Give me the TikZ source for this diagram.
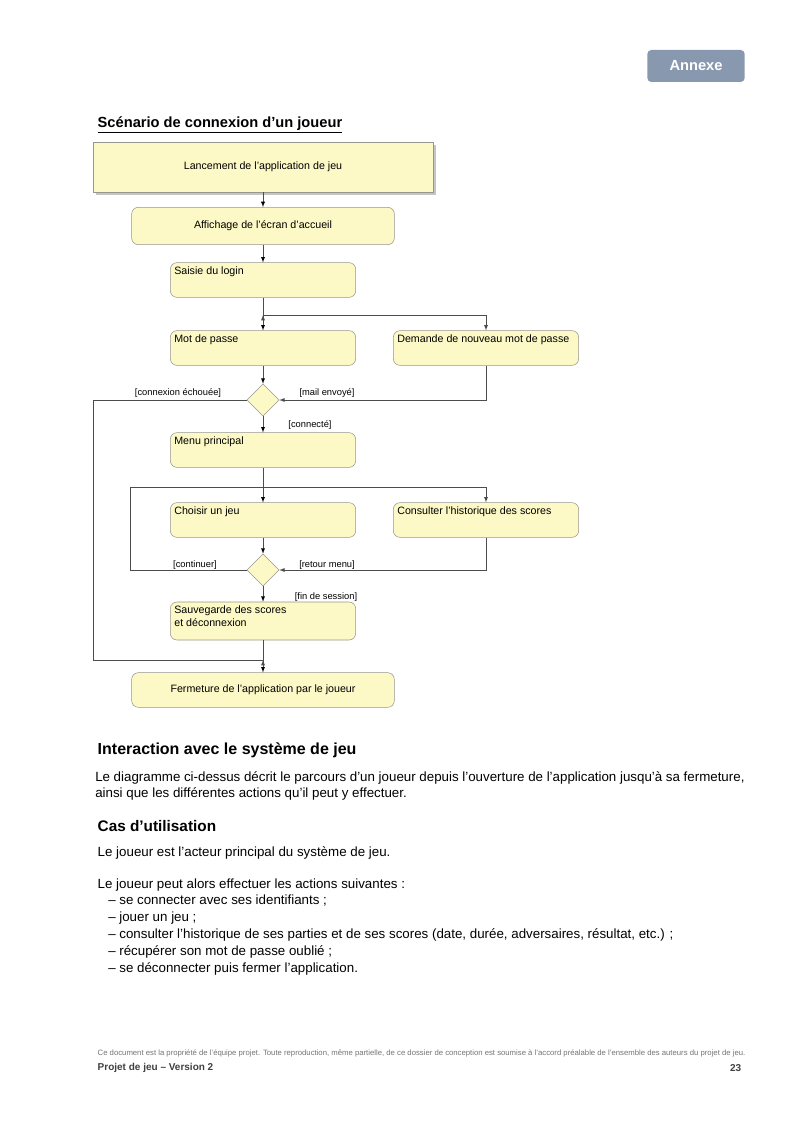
\documentclass[tikz,border=0pt]{standalone}
\usepackage{fontspec}
\setmainfont{Liberation Sans}
\usetikzlibrary{arrows,shapes.geometric,shadows}
\definecolor{boxfill}{RGB}{252,249,198}
\definecolor{boxline}{RGB}{150,150,140}
\definecolor{tabfill}{RGB}{136,152,174}
\tikzset{
  act/.style={draw=boxline,fill=boxfill,rounded corners=5pt,minimum width=139pt,minimum height=26pt,inner sep=0pt,font=\fontsize{8}{9.6}\selectfont},
  lbl/.style={font=\fontsize{8}{9.6}\selectfont,inner sep=3pt,align=left},
  cond/.style={font=\fontsize{7}{8.4}\selectfont,inner sep=1pt},
  dec/.style={diamond,draw=boxline,fill=boxfill,minimum size=24pt,inner sep=0pt},
  flow/.style={draw=black!70,line width=0.4pt},
}

\begin{document}
\begin{tikzpicture}[x=0.75pt,y=-0.75pt,>=latex]
\useasboundingbox (0,0) rectangle (800,1131);
% tab and title
\node[fill=tabfill,rounded corners=3pt,minimum width=73pt,minimum height=24pt,text=white,font=\fontsize{11}{13}\selectfont\bfseries] (tab) at (696,66) {Annexe};
\node[anchor=west,font=\fontsize{11}{13}\selectfont\bfseries] (t1) at (93,125) {\underline{Scénario de connexion d'un joueur}};
% activities
\node[act,rounded corners=0pt,minimum width=255pt,minimum height=37.5pt,drop shadow={shadow xshift=2.5pt,shadow yshift=-2.5pt,fill=black!45}] (b1) at (263,167) {Lancement de l'application de jeu};
\node[act,minimum width=197pt,minimum height=28pt] (b2) at (263,226) {Affichage de l'écran d'accueil};
\node[act,label={[lbl,anchor=north west]north west:Saisie du login}] (b3) at (263,280) {};
\coordinate (f1) at (263,315);
\node[act,label={[lbl,anchor=north west]north west:Mot de passe}] (b4) at (263,348) {};
\node[act,label={[lbl,anchor=north west]north west:Demande de nouveau mot de passe}] (b5) at (486,348) {};
\node[dec] (d1) at (263,400) {};
\coordinate (c1) at (93,660);
\node[act,label={[lbl,anchor=north west]north west:Menu principal}] (b6) at (263,450) {};
\coordinate (f2) at (263,487);
\coordinate (c2) at (130,487);
\node[act,label={[lbl,anchor=north west]north west:Choisir un jeu}] (b7) at (263,520) {};
\node[act,label={[lbl,anchor=north west]north west:Consulter l'historique des scores}] (b8) at (486,520) {};
\node[dec] (d2) at (263,570) {};
\node[act,minimum height=28.5pt,label={[lbl,anchor=north west]north west:Sauvegarde des scores\\et déconnexion}] (b9) at (263,621) {};
\coordinate (m2) at (263,660);
\node[act,minimum width=197pt] (b10) at (263,690) {Fermeture de l'application par le joueur};
% guards
\node[cond] (g1) at (178,393) {[connexion échouée]};
\node[cond] (g2) at (327,393) {[mail envoyé]};
\node[cond] (g3) at (310,425) {[connecté]};
\node[cond] (g4) at (195,565) {[continuer]};
\node[cond] (g5) at (327,565) {[retour menu]};
\node[cond] (g6) at (326,597) {[fin de session]};
% flows
\path[flow,->] (b1) edge (b2) (b2) edge (b3) (f1) edge (b4) (b4) edge (d1) (d1) edge (b6);
\path[flow,->] (f2) edge (b7) (b7) edge (d2) (d2) edge (b9) (m2) edge (b10);
\draw[flow] (b3) -- (f1) (b6) -- (f2) (b9) -- (m2);
\draw[flow,->] (f1) -| (b5);
\draw[flow,->] (b5) |- (d1);
\draw[flow] (d1) -| (c1) -- (m2);
\draw[flow,->] (f2) -| (b8);
\draw[flow,->] (b8) |- (d2);
\draw[flow] (d2) -| (c2) -- (f2);
% text below
\node[anchor=west,font=\fontsize{12}{14}\selectfont\bfseries] (h1) at (93,750) {Interaction avec le système de jeu};
\node[anchor=north west,text width=487pt,align=justify,font=\fontsize{10}{12}\selectfont,inner sep=0pt] (p1) at (95,771) {Le diagramme ci-dessus décrit le parcours d'un joueur depuis l'ouverture de l'application jusqu'à sa fermeture, ainsi que les différentes actions qu'il peut y effectuer.};
\node[anchor=west,font=\fontsize{11.5}{13.5}\selectfont\bfseries] (h2) at (93,826) {Cas d'utilisation};
\node[anchor=west,font=\fontsize{10}{12}\selectfont] (p2) at (93,853) {Le joueur est l'acteur principal du système de jeu.};
\node[anchor=west,font=\fontsize{10}{12}\selectfont] (p3) at (93,885) {Le joueur peut alors effectuer les actions suivantes :};
\node[anchor=north west,align=left,font=\fontsize{10}{12.75}\selectfont,inner sep=0pt] (l1) at (108,895) {-- se connecter avec ses identifiants ;\\-- jouer un jeu ;\\-- consulter l'historique de ses parties et de ses scores (date, durée, adversaires, résultat, etc.) ;\\-- récupérer son mot de passe oublié ;\\-- se déconnecter puis fermer l'application.};
% footer
\node[anchor=west,font=\fontsize{5.8}{6.5}\selectfont,text=black!55] (n1) at (93,1053) {Ce document est la propriété de l'équipe projet. Toute reproduction, même partielle, de ce dossier de conception est soumise à l'accord préalable de l'ensemble des auteurs du projet de jeu.};
\node[anchor=west,font=\fontsize{7.5}{9}\selectfont\bfseries,text=black!75] (n2) at (93,1068) {Projet de jeu -- Version 2};
\node[anchor=east,font=\fontsize{7.5}{9}\selectfont\bfseries,text=black!75] (n3) at (746,1068) {23};
\end{tikzpicture}
\end{document}
